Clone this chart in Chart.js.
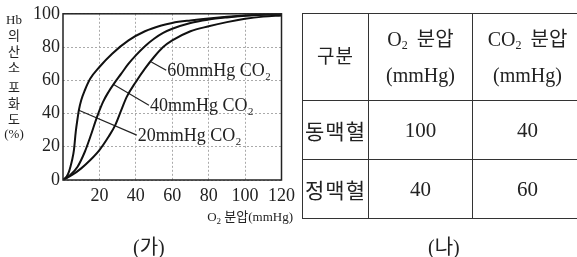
<!DOCTYPE html>
<html><head><meta charset="utf-8">
<script src="https://cdn.jsdelivr.net/npm/chart.js@4"></script>
<style>
html,body{margin:0;padding:0;background:#fff;width:577px;height:257px;overflow:hidden;position:relative;font-family:"Liberation Serif","Noto Sans CJK KR",serif;color:#222;}
#wrap{position:absolute;left:0;top:0;width:300px;height:230px;}
.yt{position:absolute;left:0;width:28px;text-align:center;font-size:13px;line-height:13px;}
#xt{position:absolute;left:180px;top:206px;width:113px;text-align:right;font-size:13px;white-space:nowrap;}
.cap{position:absolute;font-size:20px;top:231px;white-space:nowrap;}
table{position:absolute;left:302px;top:13px;border-collapse:collapse;table-layout:fixed;width:280px;font-size:20px;}
td{border:1.5px solid #333;text-align:center;padding:0;}
td.k{font-size:19px;letter-spacing:1px;}
tr.h td{height:86px;line-height:30px;word-spacing:4px;}
tr.r td{height:58px;font-size:21px;}
tr.h td.k{font-size:19px;}
sub{font-size:12px;vertical-align:-3px;}
</style></head>
<body>
<div id="wrap"><canvas id="c" width="300" height="230"></canvas></div>
<div id="ytitle"></div>
<div id="xt">O<sub style="font-size:9px">2</sub> 분압(mmHg)</div>
<div class="cap" style="left:133px;">(가)</div>
<div class="cap" style="left:428px;">(나)</div>
<table id="tbl"></table>
<script>
// ---- data ----
const xCO2_20 = [0,2,3.3,4.1,5,6,7,8,8.7,10,12,15,20,27,36,45,54,60,70,80,90,100,110,120];
const yCO2_20 = [0,2,5,8,12,18,29,37,42,48,54,61,68,76,84,89.5,93,94.5,96,97.2,98.2,99,99.6,100];
const xCO2_40 = [0,4,8,12,15,18.7,22,25,28,32,36,40,45,50,55,60,70,80,90,100,110,120];
const yCO2_40 = [0,3,8,17,26,38,47,53,58,64,70,75,80.5,85,88.5,91,94.5,96.5,97.8,98.8,99.5,100];
const xCO2_60 = [0,5,10,15,20,25,28.7,32,35,40,45,50,55,60,70,80,90,100,110,120];
const yCO2_60 = [0,3,7,12,18,26,33,42,50,59,67,74,80,84,89.5,92.5,95,97,98.3,99];
const seriesLabels = ["20mmHg CO₂","40mmHg CO₂","60mmHg CO₂"];
const labelAnchors = [[8.7,42,40.5,27],[27.8,57.5,47.2,45],[48.5,71,56.7,66]]; // curve point -> label point (data units)
const xTicks = [20,40,60,80,100,120];
const yTicks = [0,20,40,60,80,100];
const yTitleParts = ["Hb","의","산","소","포","화","도","(%)"];
const tableHeader = ["구분","O<sub>2</sub> 분압<br>(mmHg)","CO<sub>2</sub> 분압<br>(mmHg)"];
const rowNames = ["동맥혈","정맥혈"];
const o2Values = [100,40];
const co2Values = [40,60];

// ---- y title ----
const yTop = [13,29,45,61,81,97,113,127];
const yt = document.getElementById('ytitle');
yTitleParts.forEach((t,i)=>{const d=document.createElement('div');d.className='yt';d.style.top=yTop[i]+'px';d.textContent=t;yt.appendChild(d);});

// ---- table ----
const tbl = document.getElementById('tbl');
let html = '<colgroup><col style="width:66px"><col style="width:104px"><col style="width:110px"></colgroup>';
html += '<tr class="h">'+tableHeader.map((h,i)=>'<td'+(i==0?' class="k"':'')+'>'+h+'</td>').join('')+'</tr>';
rowNames.forEach((r,i)=>{html+='<tr class="r"><td class="k">'+r+'</td><td>'+o2Values[i]+'</td><td>'+co2Values[i]+'</td></tr>';});
tbl.innerHTML = html;

// ---- chart ----
const pts = (xs,ys)=>xs.map((x,i)=>({x:x,y:ys[i]}));
const curveStyle = {borderColor:'#111',borderWidth:2,pointRadius:0,fill:false,cubicInterpolationMode:'monotone'};
const datasets = [
  Object.assign({data:pts(xCO2_20,yCO2_20)},curveStyle),
  Object.assign({data:pts(xCO2_40,yCO2_40)},curveStyle),
  Object.assign({data:pts(xCO2_60,yCO2_60)},curveStyle),
];
labelAnchors.forEach(a=>{
  datasets.push({data:[{x:a[0],y:a[1]},{x:a[2],y:a[3]}],borderColor:'#222',borderWidth:1.2,pointRadius:0,fill:false,tension:0});
});

const boxAndLabels = {
  id:'boxAndLabels',
  afterDraw(chart){
    const {ctx,chartArea:a,scales:{x,y}} = chart;
    ctx.save();
    ctx.strokeStyle='#222';ctx.lineWidth=1.5;
    ctx.strokeRect(a.left,a.top,a.right-a.left,a.bottom-a.top);
    ctx.fillStyle='#222';
    ctx.font='18px "Liberation Serif", serif';
    ctx.textBaseline='middle';ctx.textAlign='left';
    labelAnchors.forEach((p,i)=>{
      ctx.fillText(seriesLabels[i], x.getPixelForValue(p[2])+1, y.getPixelForValue(p[3])+1);
    });
    ctx.restore();
  }
};

new Chart(document.getElementById('c'),{
  type:'line',
  data:{datasets:datasets},
  options:{
    responsive:false,animation:false,
    layout:{padding:{top:13,right:17,left:0,bottom:0}},
    plugins:{legend:{display:false},tooltip:{enabled:false}},
    scales:{
      x:{type:'linear',min:0,max:120,
        afterBuildTicks(s){s.ticks=xTicks.map(v=>({value:v}));},
        afterFit(s){s.height=50;},
        grid:{color:'#aaa',lineWidth:1,drawTicks:false},
        border:{display:false,dash:[2,2]},
        ticks:{color:'#222',padding:5,maxRotation:0,autoSkip:false,font:{family:'"Liberation Serif", serif',size:18}}},
      y:{type:'linear',min:0,max:100,
        afterBuildTicks(s){s.ticks=yTicks.map(v=>({value:v}));},
        afterFit(s){s.width=63;},
        grid:{color:'#aaa',lineWidth:1,drawTicks:false},
        border:{display:false,dash:[2,2]},
        ticks:{color:'#222',padding:3,autoSkip:false,font:{family:'"Liberation Serif", serif',size:18}}}
    }
  },
  plugins:[boxAndLabels]
});
</script>
</body></html>
